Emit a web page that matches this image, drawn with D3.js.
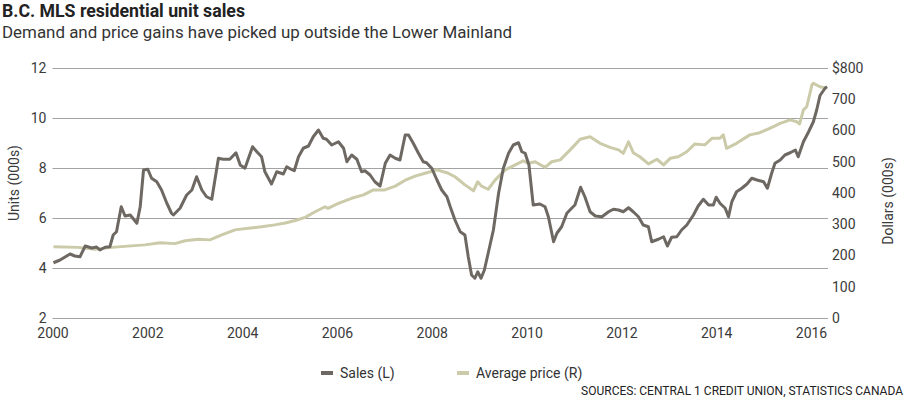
<!DOCTYPE html>
<html>
<head>
<meta charset="utf-8">
<script src="https://cdn.jsdelivr.net/npm/d3@7"></script>
<style>
  body { margin:0; background:#fff; }
  text { font-family: Roboto, "DejaVu Sans", sans-serif; }
</style>
</head>
<body>
<div class="svg-container"></div>
<script>
//data (decimal years)
const salesDates = [2000.02,2000.16,2000.37,2000.47,2000.58,2000.69,2000.83,2000.93,2001.00,2001.11,2001.21,2001.28,2001.35,2001.45,2001.53,2001.64,2001.78,2001.85,2001.92,2002.01,2002.09,2002.20,2002.30,2002.41,2002.51,2002.55,2002.69,2002.83,2002.94,2003.04,2003.15,2003.25,2003.36,2003.50,2003.60,2003.74,2003.87,2003.96,2004.06,2004.22,2004.31,2004.41,2004.48,2004.62,2004.73,2004.87,2004.94,2005.03,2005.10,2005.19,2005.29,2005.40,2005.50,2005.61,2005.71,2005.78,2005.89,2006.03,2006.14,2006.21,2006.31,2006.42,2006.52,2006.59,2006.70,2006.80,2006.91,2007.02,2007.12,2007.23,2007.33,2007.44,2007.51,2007.61,2007.72,2007.82,2007.89,2008.00,2008.11,2008.21,2008.32,2008.39,2008.49,2008.60,2008.70,2008.77,2008.84,2008.91,2008.97,2009.04,2009.11,2009.19,2009.30,2009.41,2009.51,2009.62,2009.72,2009.83,2009.90,2009.97,2010.05,2010.14,2010.28,2010.39,2010.46,2010.57,2010.64,2010.74,2010.85,2010.95,2011.02,2011.14,2011.23,2011.34,2011.45,2011.59,2011.73,2011.83,2011.94,2012.04,2012.15,2012.25,2012.36,2012.46,2012.57,2012.64,2012.78,2012.89,2012.97,2013.06,2013.17,2013.27,2013.38,2013.52,2013.62,2013.73,2013.84,2013.94,2014.00,2014.08,2014.19,2014.26,2014.33,2014.43,2014.54,2014.65,2014.75,2014.86,2015.00,2015.08,2015.17,2015.24,2015.35,2015.45,2015.56,2015.67,2015.73,2015.84,2015.95,2016.05,2016.12,2016.19,2016.30,2016.34];
const salesUnits = [4.21,4.32,4.56,4.48,4.45,4.88,4.80,4.84,4.72,4.83,4.85,5.32,5.45,6.45,6.08,6.12,5.79,6.45,7.92,7.95,7.59,7.45,7.12,6.60,6.19,6.12,6.39,6.92,7.12,7.65,7.12,6.85,6.75,8.39,8.35,8.35,8.61,8.12,7.99,8.85,8.65,8.45,7.85,7.36,7.85,7.76,8.05,7.95,7.89,8.45,8.79,8.88,9.25,9.52,9.19,9.15,8.92,9.05,8.79,8.25,8.52,8.35,7.85,7.89,7.72,7.45,7.28,8.19,8.52,8.39,8.32,9.32,9.32,8.99,8.59,8.25,8.21,7.99,7.52,7.12,6.85,6.45,5.92,5.45,5.32,4.45,3.72,3.59,3.85,3.59,3.92,4.59,5.52,6.99,7.99,8.59,8.92,9.01,8.65,8.59,8.12,6.52,6.56,6.45,6.05,5.05,5.39,5.65,6.19,6.39,6.52,7.23,6.85,6.25,6.08,6.05,6.25,6.35,6.32,6.25,6.41,6.25,6.05,5.72,5.65,5.05,5.15,5.25,4.88,5.23,5.25,5.52,5.72,6.12,6.48,6.75,6.52,6.52,6.83,6.59,6.39,6.05,6.65,7.05,7.19,7.36,7.59,7.52,7.45,7.19,7.79,8.19,8.32,8.52,8.61,8.72,8.45,9.05,9.45,9.85,10.32,10.90,11.20,11.25];

const priceDates = [2000.02,2000.54,2000.90,2001.25,2001.59,2001.95,2002.27,2002.58,2002.80,2003.08,2003.32,2003.57,2003.85,2004.13,2004.41,2004.69,2004.91,2005.12,2005.33,2005.54,2005.75,2005.81,2006.03,2006.31,2006.56,2006.77,2007.01,2007.23,2007.44,2007.65,2007.86,2008.11,2008.32,2008.49,2008.70,2008.88,2008.97,2009.05,2009.19,2009.34,2009.55,2009.76,2009.93,2010.04,2010.18,2010.39,2010.53,2010.71,2010.92,2011.13,2011.34,2011.55,2011.76,2011.94,2012.04,2012.15,2012.25,2012.39,2012.57,2012.75,2012.89,2013.03,2013.20,2013.38,2013.55,2013.76,2013.91,2014.08,2014.15,2014.22,2014.43,2014.71,2014.92,2015.13,2015.35,2015.56,2015.70,2015.76,2015.84,2015.91,2016.02,2016.05,2016.19,2016.33];
const avgPrice = [228,226,220,226,230,234,241,238,247,252,250,266,282,287,292,298,304,312,322,340,356,351,367,383,394,410,410,422,441,454,463,474,465,452,426,407,436,422,412,442,474,490,503,495,500,482,500,506,538,572,580,559,546,538,527,564,529,516,493,508,490,511,516,532,557,554,575,575,586,543,559,586,593,607,623,634,628,621,666,676,746,751,740,735];

const unitTicks = [2,4,6,8,10,12];
const priceTicks = [0,100,200,300,400,500,600,700,800];
const yearTicks = [2000,2002,2004,2006,2008,2010,2012,2014,2016];

const W = 905, H = 400;
const plot = { left:52.5, right:828, top:68, bottom:318 };

const svg = d3.select(".svg-container")
              .append('svg')
              .attr('width', W)
              .attr('height', H);

//scales
const xScale = d3.scaleLinear()
                .domain([2000, 2016])
                .range([plot.left, 811]);

const yL = d3.scaleLinear()
            .domain([2, 12])
            .range([plot.bottom, plot.top]);

const yR = d3.scaleLinear()
            .domain([0, 800])
            .range([plot.bottom, plot.top]);

//gridlines via left axis
svg.append('g')
    .attr('class', 'y-axisL')
    .attr('transform', `translate(${plot.left}, 0)`)
    .call(d3.axisLeft(yL).tickValues(unitTicks).tickSize(-(plot.right-plot.left)).tickPadding(6))
    .call(g => g.select('.domain').remove())
    .call(g => g.selectAll('.tick line').attr('stroke', '#a3a3a3').attr('stroke-width', 1))
    .call(g => g.selectAll('.tick text').attr('fill', '#3a3a3a').attr('font-size', 14));

//right axis
svg.append('g')
    .attr('class', 'y-axisR')
    .attr('transform', `translate(${plot.right}, 0)`)
    .call(d3.axisRight(yR).tickValues(priceTicks).tickSize(0).tickPadding(4)
            .tickFormat(d => d === 800 ? '$800' : d))
    .call(g => g.select('.domain').remove())
    .call(g => g.selectAll('.tick text').attr('fill', '#3a3a3a').attr('font-size', 14));

//x axis labels
svg.append('g')
    .attr('class', 'x-axis')
    .attr('transform', `translate(0, ${plot.bottom})`)
    .call(d3.axisBottom(xScale).tickValues(yearTicks).tickSize(0).tickPadding(10).tickFormat(d3.format('d')))
    .call(g => g.select('.domain').remove())
    .call(g => g.selectAll('.tick text').attr('fill', '#3a3a3a').attr('font-size', 14));

//lines
const salesLine = d3.line()
    .x((d,i) => xScale(salesDates[i]))
    .y(d => yL(d));

const priceLine = d3.line()
    .x((d,i) => xScale(priceDates[i]))
    .y(d => yR(d));

svg.append('path')
    .datum(avgPrice)
    .attr('d', priceLine)
    .attr('fill', 'none')
    .attr('stroke', '#cbcaa9')
    .attr('stroke-width', 3)
    .attr('stroke-linejoin', 'round');

svg.append('path')
    .datum(salesUnits)
    .attr('d', salesLine)
    .attr('fill', 'none')
    .attr('stroke', '#6e6863')
    .attr('stroke-width', 3)
    .attr('stroke-linejoin', 'round');

//axis titles
svg.append('text')
    .attr('transform', `translate(19, ${(plot.top+plot.bottom)/2 - 10}) rotate(-90)`)
    .attr('text-anchor', 'middle')
    .attr('fill', '#3a3a3a')
    .attr('font-size', 14)
    .text('Units (000s)');

svg.append('text')
    .attr('transform', `translate(893, ${(plot.top+plot.bottom)/2 + 8}) rotate(-90)`)
    .attr('text-anchor', 'middle')
    .attr('fill', '#3a3a3a')
    .attr('font-size', 14)
    .text('Dollars (000s)');

//title
svg.append('text')
    .attr('x', 2).attr('y', 17)
    .attr('font-weight', 'bold')
    .attr('font-size', 19)
    .attr('fill', '#222')
    .attr('textLength', 243)
    .attr('lengthAdjust', 'spacingAndGlyphs')
    .text('B.C. MLS residential unit sales');

svg.append('text')
    .attr('x', 2).attr('y', 38)
    .attr('font-size', 16)
    .attr('fill', '#333')
    .attr('textLength', 510)
    .attr('lengthAdjust', 'spacingAndGlyphs')
    .text('Demand and price gains have picked up outside the Lower Mainland');

//legend
const legendItems = [
    { label:'Sales (L)', color:'#6e6863', x:321 },
    { label:'Average price (R)', color:'#cbcaa9', x:457 }
];
const legend = svg.selectAll('.legend')
    .data(legendItems)
    .join('g')
    .attr('class', 'legend')
    .attr('transform', d => `translate(${d.x}, 373)`);

legend.append('rect')
    .attr('x', 0).attr('y', -2)
    .attr('width', 12).attr('height', 4)
    .attr('fill', d => d.color);

legend.append('text')
    .attr('x', 19).attr('y', 5)
    .attr('font-size', 14)
    .attr('fill', '#333')
    .text(d => d.label);

//source
svg.append('text')
    .attr('x', 903).attr('y', 395)
    .attr('text-anchor', 'end')
    .attr('font-size', 12)
    .attr('fill', '#222')
    .text('SOURCES: CENTRAL 1 CREDIT UNION, STATISTICS CANADA');
</script>
</body>
</html>
